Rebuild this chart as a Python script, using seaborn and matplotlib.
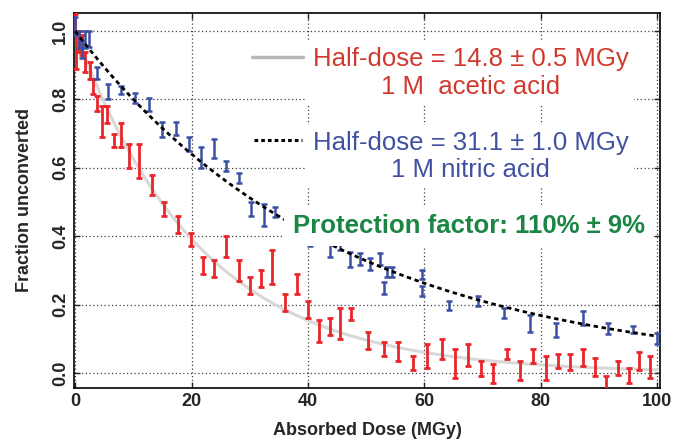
import numpy as np
import pandas as pd
import matplotlib
matplotlib.use('Agg')
import matplotlib.pyplot as plt
import seaborn as sns

# acetic acid (red) : dose, lower, upper
acetic_dose = [0.0, 0.2, 0.7, 1.1, 1.7, 2.6, 3.1, 3.8, 4.6, 5.4, 6.6, 7.9, 9.3, 11.0, 13.2,
               15.3, 17.6, 19.9, 22.0, 23.9, 26.0, 28.1, 30.1, 32.0, 33.9, 36.1, 38.1, 40.0,
               41.9, 43.8, 45.5, 47.4, 50.3, 53.0, 55.4, 58.0, 60.4, 63.0, 65.2, 67.5, 69.7,
               71.8, 74.2, 76.5, 78.6, 80.9, 83.0, 85.1, 87.2, 89.3, 91.3, 93.2, 95.1, 96.9, 98.8]
acetic_lo = [1.00, 0.89, 0.94, 0.93, 0.88, 0.86, 0.815, 0.765, 0.69, 0.73, 0.66, 0.66, 0.60, 0.57, 0.52,
             0.46, 0.41, 0.37, 0.29, 0.28, 0.34, 0.27, 0.23, 0.25, 0.26, 0.18, 0.23, 0.16,
             0.09, 0.11, 0.10, 0.155, 0.07, 0.05, 0.035, 0.01, 0.015, 0.04, -0.015, 0.02, -0.01,
             -0.03, 0.04, -0.02, 0.03, -0.02, 0.015, 0.01, 0.02, -0.01, -0.06, -0.006, -0.03, 0.01, -0.015]
acetic_hi = [1.05, 1.00, 1.00, 0.99, 0.94, 0.91, 0.86, 0.81, 0.78, 0.78, 0.70, 0.73, 0.67, 0.67, 0.58,
             0.50, 0.46, 0.41, 0.34, 0.33, 0.40, 0.33, 0.28, 0.30, 0.36, 0.23, 0.29, 0.21,
             0.155, 0.16, 0.19, 0.19, 0.12, 0.09, 0.09, 0.05, 0.085, 0.10, 0.07, 0.085, 0.035,
             0.025, 0.07, 0.035, 0.07, 0.05, 0.055, 0.055, 0.07, 0.045, -0.01, 0.035, 0.015, 0.06, 0.05]

# nitric acid (blue)
nitric_dose = [0.0, 0.6, 1.1, 1.7, 2.4, 3.8, 5.7, 7.9, 10.2, 12.7, 14.9, 17.4, 19.5, 21.6, 23.8,
               25.9, 28.2, 30.3, 32.4, 34.4, 40.3, 43.8, 45.5, 47.2, 49.0, 50.6, 52.4, 53.0, 53.6,
               54.4, 59.6, 59.6, 64.3, 69.3, 73.7, 78.2, 82.6, 87.2, 91.5, 95.9, 100.0]
nitric_lo = [0.99, 0.95, 0.92, 0.95, 0.955, 0.86, 0.80, 0.815, 0.79, 0.765, 0.69, 0.695, 0.65, 0.60, 0.63,
             0.59, 0.555, 0.46, 0.43, 0.455, 0.37, 0.34, 0.36, 0.31, 0.315, 0.30, 0.315, 0.23, 0.28,
             0.28, 0.275, 0.225, 0.185, 0.195, 0.16, 0.12, 0.105, 0.14, 0.115, 0.117, 0.085]
nitric_hi = [1.04, 1.00, 0.97, 1.00, 1.00, 0.895, 0.845, 0.84, 0.82, 0.805, 0.735, 0.735, 0.69, 0.66, 0.685,
             0.62, 0.585, 0.50, 0.495, 0.485, 0.41, 0.38, 0.38, 0.355, 0.35, 0.335, 0.35, 0.265, 0.31,
             0.31, 0.30, 0.255, 0.21, 0.225, 0.19, 0.17, 0.145, 0.18, 0.145, 0.138, 0.117]

half_dose_acetic = 14.8
half_dose_nitric = 31.1

red = '#e8262b'
blue = '#3b4fa3'

sns.set_style('ticks')
plt.rcParams['font.family'] = ['Liberation Sans', 'DejaVu Sans']

fig = plt.figure(figsize=(6.75, 4.44), dpi=100)
ax = fig.add_axes([74 / 675, 1 - 388 / 444, (660 - 74) / 675, (388 - 13) / 444])

# fitted decay curves
dose = np.linspace(0, 100, 201)
fit_df = pd.DataFrame({'dose': dose,
                       'acetic': np.exp(-np.log(2) * dose / half_dose_acetic),
                       'nitric': np.exp(-np.log(2) * dose / half_dose_nitric)})
sns.lineplot(data=fit_df, x='dose', y='acetic', ax=ax, color='#d8d8d8', lw=2.2, zorder=2)
sns.lineplot(data=fit_df, x='dose', y='nitric', ax=ax, color='black', lw=2.0,
             linestyle=(0, (1.6, 1.3)), zorder=4)

a_lo, a_hi = np.array(acetic_lo), np.array(acetic_hi)
a_mid = (a_lo + a_hi) / 2
ax.errorbar(acetic_dose, a_mid, yerr=[a_mid - a_lo, a_hi - a_mid], fmt='none', ecolor=red,
            elinewidth=2, capsize=2, capthick=2, zorder=3)
n_lo, n_hi = np.array(nitric_lo), np.array(nitric_hi)
n_mid = (n_lo + n_hi) / 2
ax.errorbar(nitric_dose, n_mid, yerr=[n_mid - n_lo, n_hi - n_mid], fmt='none', ecolor=blue,
            elinewidth=1.8, capsize=2, capthick=1.8, zorder=3)

ax.set_xlim(-0.2, 100.5)
ax.set_ylim(-0.044, 1.053)
ax.set_xticks([0, 20, 40, 60, 80, 100])
ax.set_yticks([0.0, 0.2, 0.4, 0.6, 0.8, 1.0])
ax.set_yticklabels(['0.0', '0.2', '0.4', '0.6', '0.8', '1.0'], rotation=90, va='center')
ax.grid(True, linestyle=(0, (1, 2)), color='0.25', lw=0.9)
ax.set_axisbelow(True)
ax.tick_params(direction='in', top=True, right=True, length=4, width=1, labelsize=13)
for lab in ax.get_xticklabels() + ax.get_yticklabels():
    lab.set_fontweight('bold')
for s in ax.spines.values():
    s.set_visible(True)
    s.set_linewidth(1.2)
    s.set_color('black')
ax.set_xlabel('Absorbed Dose (MGy)', fontsize=13, fontweight='bold', labelpad=9)
ax.set_ylabel('Fraction unconverted', fontsize=13, fontweight='bold', labelpad=14)

# annotation block
box = dict(facecolor='white', edgecolor='none', pad=4)
ax.text(68.0, 0.878, 'Half-dose = 14.8 \u00b1 0.5 MGy\n1 M  acetic acid', color='#d2392e',
        fontsize=18.5, ha='center', va='center', linespacing=1.2, bbox=box, zorder=6)
ax.text(68.0, 0.633, 'Half-dose = 31.1 \u00b1 1.0 MGy\n1 M nitric acid', color='#4150a2',
        fontsize=18.5, ha='center', va='center', linespacing=1.2, bbox=box, zorder=6)
ax.text(67.6, 0.43, 'Protection factor: 110% \u00b1 9%', color='#1b8543',
        fontsize=18.5, fontweight='bold', ha='center', va='center',
        bbox=dict(facecolor='white', edgecolor='none', pad=6), zorder=6)
ax.plot([30.4, 39.1], [0.924, 0.924], color='#b8b8b8', lw=2.5, zorder=7)
ax.plot([30.7, 38.9], [0.681, 0.681], color='black', lw=2.2, linestyle=(0, (1.2, 1.0)), zorder=7)

fig.savefig('out.png', dpi=100)
